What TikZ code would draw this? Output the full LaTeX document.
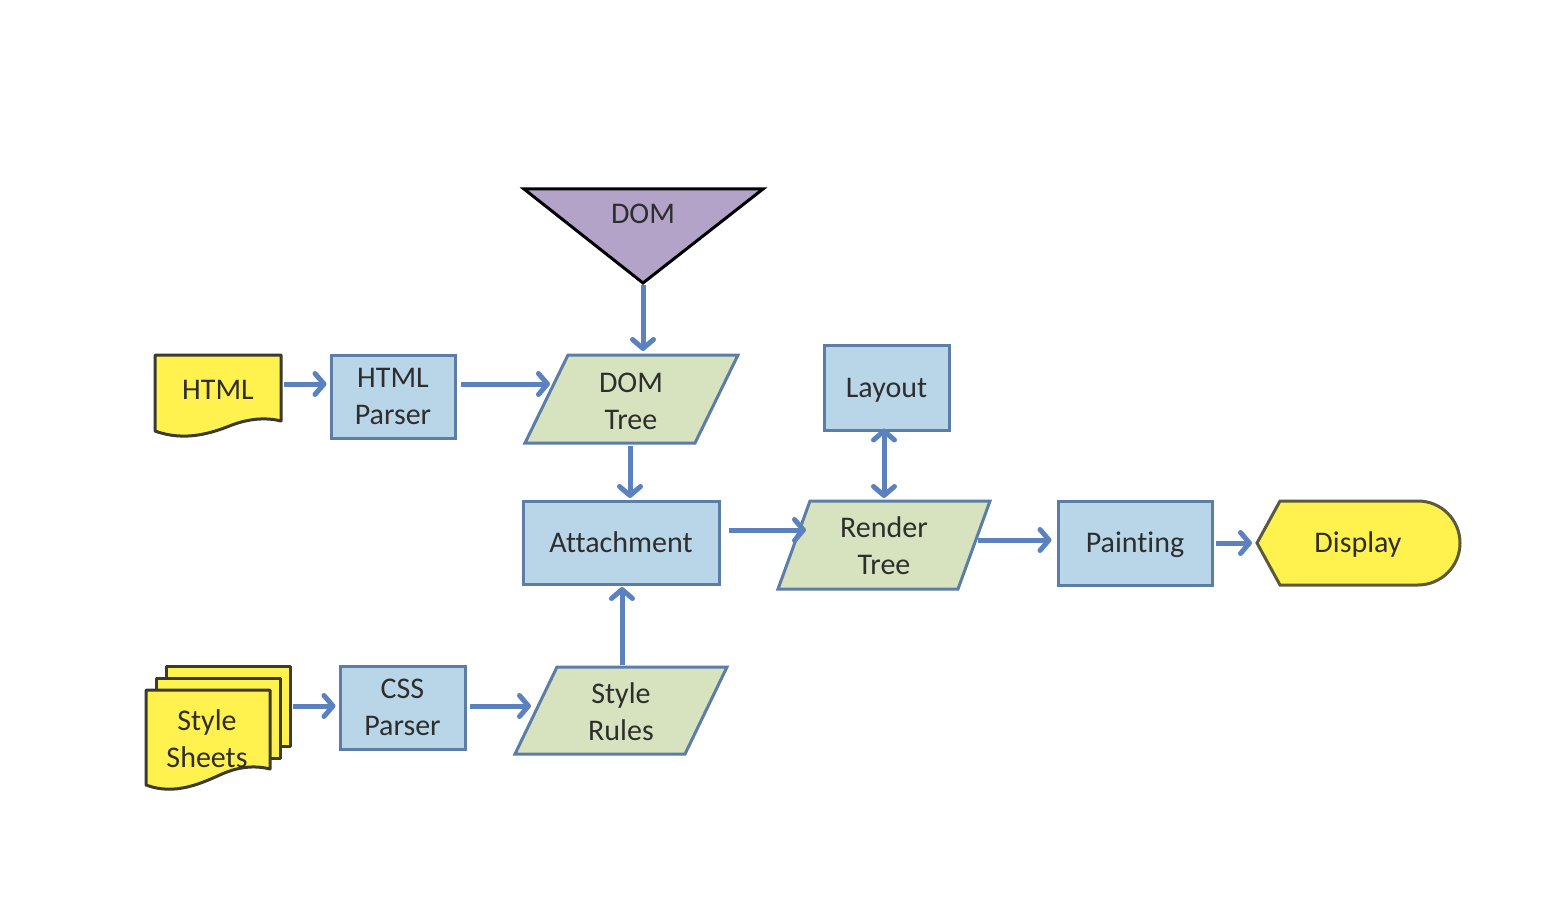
\documentclass[tikz,border=0pt]{standalone}
\usepackage{fontspec}
\setmainfont{Carlito}[Ligatures=NoCommon]
\usetikzlibrary{arrows.meta}
\definecolor{docyel}{HTML}{FFF24F}
\definecolor{docline}{HTML}{3A3A2E}
\definecolor{boxfill}{HTML}{B9D6E8}
\definecolor{boxline}{HTML}{5B7DA6}
\definecolor{parafill}{HTML}{D7E3BF}
\definecolor{trifill}{HTML}{B3A3C9}
\definecolor{arrowc}{HTML}{5B82BE}
\definecolor{txt}{HTML}{2E2E2E}
\definecolor{displine}{HTML}{5A5A3C}
\tikzset{
  lbl/.style={text=txt, font=\fontsize{30}{37}\selectfont, align=center, inner sep=0pt},
  one/.style={text height=19pt, text depth=0pt},
  bluebox/.style={draw=boxline, fill=boxfill, line width=3pt, lbl, minimum width=#1},
  bluebox/.default=124pt,
  parash/.style={draw=boxline, fill=parafill, line width=3pt, line join=miter},
  docsh/.style={draw=docline, fill=docyel, line width=3pt, line join=round},
  tipA/.style={Straight Barb[length=9pt,width=21pt,line cap=round,line join=round]},
  flow/.style={draw=arrowc, line width=5pt, -{Straight Barb[length=9pt,width=21pt,line cap=round,line join=round]}},
  flow2/.style={draw=arrowc, line width=5pt, {Straight Barb[length=9pt,width=21pt,line cap=round,line join=round]}-{Straight Barb[length=9pt,width=21pt,line cap=round,line join=round]}},
}
\begin{document}
\begin{tikzpicture}[x=1pt,y=-1pt]
\useasboundingbox[fill=white] (0,0) rectangle (1548,912);

% DOM triangle
\draw[draw=black, fill=trifill, line width=3pt, line join=miter] (524,189) -- (763,189) -- (643,283) -- cycle;
\node[lbl, one] (dom) at (643,214) {DOM};
\coordinate (domtip) at (643,285);

% HTML document
\draw[docsh] (155,355) -- (281,355) -- (281,421)
  .. controls (265,417) and (248,419) .. (232,425)
  .. controls (212,433) and (185,442) .. (155,431) -- cycle;
\node[lbl, one] (html) at (218,390) {HTML};
\coordinate (htmlR) at (284,384);

% HTML Parser
\node[bluebox, minimum height=83pt] (hparser) at (393,396.5) {HTML\\Parser};
\coordinate (hparserR) at (461,384);

% DOM Tree parallelogram
\draw[parash] (568,355) -- (738,355) -- (695,443) -- (525,443) -- cycle;
\node[lbl] (domtree) at (631,401) {DOM\\Tree};
\coordinate (domtreeL) at (550,384);
\coordinate (domtreeT) at (643,351);
\coordinate (domtreeB) at (630,446);

% Layout
\node[bluebox=125pt, minimum height=85pt, one] (layout) at (886.5,387.5) {Layout};

% Attachment
\node[bluebox=196pt, minimum height=83pt, one] (attach) at (621,542.5) {Attachment};
\coordinate (attachT) at (630,498);
\coordinate (attachB) at (622,587);
\coordinate (attachR) at (729,530);

% Render Tree
\draw[parash] (810,501) -- (990,501) -- (958,589) -- (778,589) -- cycle;
\node[lbl] (render) at (884,546) {Render\\Tree};
\coordinate (renderL) at (806,530);
\coordinate (renderT) at (884,498);
\coordinate (renderR) at (978,540);

% Painting
\node[bluebox=154pt, minimum height=84pt, one] (paint) at (1135,543) {Painting};
\coordinate (paintR) at (1216,543);

% Display
\draw[draw=displine, fill=docyel, line width=3pt, line join=miter]
  (1257,543) -- (1280,501) -- (1418,501) arc[start angle=90, end angle=-90, radius=42pt] -- (1280,585) -- cycle;
\node[lbl, one] (display) at (1358,543) {Display};
\coordinate (displayL) at (1252,543);

% Style sheets stack
\draw[docsh] (166,666) rectangle (290,746);
\draw[docsh] (156,678) rectangle (280,758);
\draw[docsh] (146,690) -- (270,690) -- (270,769)
  .. controls (254,765) and (238,767) .. (222,774)
  .. controls (202,783) and (175,796) .. (146,785) -- cycle;
\node[lbl] (sheets) at (207,739) {Style\\Sheets};
\coordinate (sheetsR) at (293,706);

% CSS Parser
\node[bluebox=125pt, minimum height=83pt] (cparser) at (402.5,707.5) {CSS\\Parser};
\coordinate (cparserR) at (470,706);

% Style Rules
\draw[parash] (557,667) -- (727,667) -- (685,754) -- (515,754) -- cycle;
\node[lbl] (rules) at (621,712) {Style\\Rules};
\coordinate (rulesL) at (531,706);
\coordinate (rulesT) at (622,665);

% connectors
\draw[flow] (htmlR) -- ([xshift=-3pt]hparser.west |- htmlR);
\draw[flow] (hparserR) -- (domtreeL);
\draw[flow] (domtip) -- (domtreeT);
\draw[flow] (domtreeB) -- (attachT);
\draw[flow] (sheetsR) -- ([xshift=-3pt]cparser.west |- sheetsR);
\draw[flow] (cparserR) -- (rulesL);
\draw[flow] (rulesT) -- (attachB);
\draw[flow] (attachR) -- (renderL);
\draw[flow2] (renderT) -- ([yshift=3pt]layout.south -| renderT);
\draw[flow] (renderR) -- ([xshift=-5pt]paint.west |- renderR);
\draw[flow] (paintR) -- (displayL);
\end{tikzpicture}
\end{document}
